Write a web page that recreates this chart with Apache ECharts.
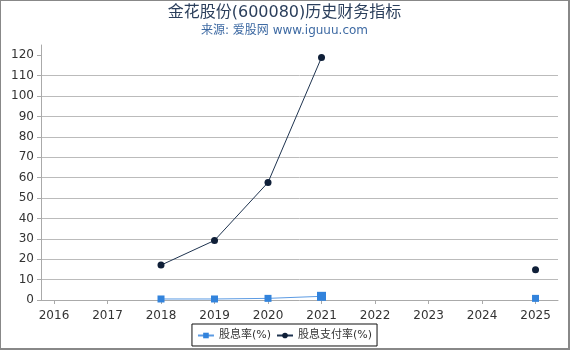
<!DOCTYPE html>
<html>
<head>
<meta charset="utf-8">
<script src="https://cdn.jsdelivr.net/npm/echarts@6/dist/echarts.min.js"></script>
<style>
html,body{margin:0;padding:0;background:#fff;}
#c{width:570px;height:350px;box-sizing:border-box;border-top:1px solid #888;border-left:1px solid #888;border-right:2px solid #888;border-bottom:2px solid #888;}
</style>
</head>
<body>
<div id="c"></div>
<script>
var years = [2016, 2017, 2018, 2019, 2020, 2021, 2022, 2023, 2024, 2025];
var divYield = [null, null, 0.5, 0.5, 0.8, 1.8, null, null, null, 0.8];
var payoutRatio = [null, null, 17.1, 29.2, 57.6, 118.9, null, null, null, 14.8];
var yTicks = [0, 10, 20, 30, 40, 50, 60, 70, 80, 90, 100, 110, 120];

function pairs(vals) {
  return years.map(function (y, i) {
    var v = vals[i];
    return v === null ? [y, '-'] : [y, v];
  });
}
var d1 = pairs(divYield).map(function (p) {
  if (p[0] === 2021) return { value: p, symbolSize: 9 };
  return p;
});

var font = 'DejaVu Sans, Noto Sans CJK SC, sans-serif';
var chart = echarts.init(document.getElementById('c'), null, { renderer: 'canvas' });
chart.setOption({
  animation: false,
  backgroundColor: '#fff',
  textStyle: { fontFamily: font },
  title: {
    text: '金花股份(600080)历史财务指标',
    subtext: '来源: 爱股网 www.iguuu.com',
    left: 'center',
    top: -1,
    itemGap: 4,
    textStyle: { fontSize: 16, fontWeight: 'normal', color: '#2b3f5c', fontFamily: font },
    subtextStyle: { fontSize: 12, color: '#3e6aa3', fontFamily: font }
  },
  legend: {
    left: 'center',
    top: 323,
    borderColor: '#111',
    borderWidth: 1,
    borderRadius: 0,
    padding: [6, 5, 5, 5],
    itemGap: 5,
    itemWidth: 16,
    itemHeight: 7,
    textStyle: { fontSize: 11, color: '#333', fontFamily: font },
    data: ['股息率(%)', '股息支付率(%)']
  },
  grid: { left: 40, right: 10, top: 44, bottom: 48, containLabel: false },
  xAxis: {
    type: 'value',
    min: 2015.757,
    max: 2025.42,
    offset: 4,
    axisLine: { lineStyle: { color: '#aaa' } },
    axisTick: { show: true, length: 4, lineStyle: { color: '#aaa' }, customValues: years },
    axisLabel: { color: '#333', fontSize: 12, margin: 6, customValues: years, fontFamily: font,
      formatter: function (v) { return String(Math.round(v)); } },
    splitLine: { show: false }
  },
  yAxis: {
    type: 'value',
    min: 0,
    max: 125,
    interval: 10,
    axisLine: { show: true, lineStyle: { color: '#aaa' } },
    axisTick: { show: true, length: 4, lineStyle: { color: '#aaa' }, customValues: yTicks },
    axisLabel: { color: '#333', fontSize: 12, margin: 7, customValues: yTicks, fontFamily: font },
    splitLine: { show: true, showMinLine: false, showMaxLine: false, lineStyle: { color: '#bbb', width: 1 } }
  },
  series: [
    {
      name: '股息率(%)',
      type: 'line',
      data: d1,
      symbol: 'rect',
      symbolSize: 7,
      connectNulls: false,
      itemStyle: { color: '#3283dc' },
      lineStyle: { color: '#5c9be3', width: 1 }
    },
    {
      name: '股息支付率(%)',
      type: 'line',
      data: pairs(payoutRatio),
      symbol: 'circle',
      symbolSize: 7,
      connectNulls: false,
      itemStyle: { color: '#0f1f38' },
      lineStyle: { color: '#1f3450', width: 1 }
    }
  ]
});
</script>
</body>
</html>
